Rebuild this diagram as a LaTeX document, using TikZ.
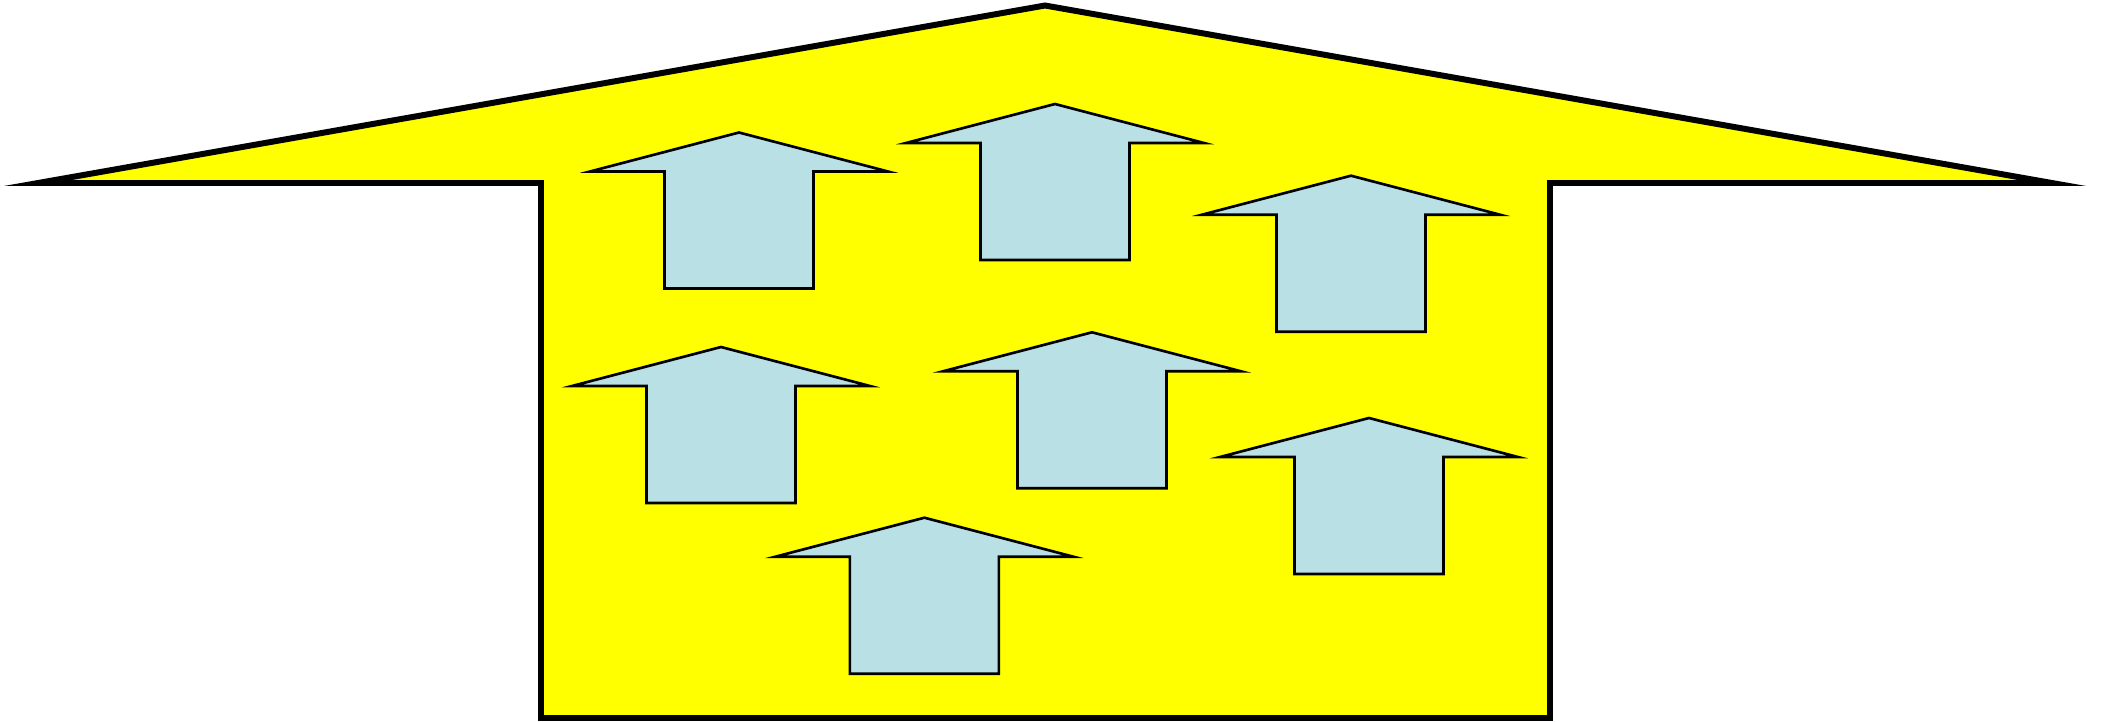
\documentclass[tikz,border=0pt]{standalone}
\usepackage{tikz}

\definecolor{liftblue}{RGB}{185,224,228}
\definecolor{houseyellow}{RGB}{255,255,0}

\begin{document}
\begin{tikzpicture}[
    x=1cm, y=1cm,
    house/.style={draw=black, fill=houseyellow, line width=1.7pt, line join=miter, miter limit=20},
    liftarrow/.style={draw=black, fill=liftblue, line width=0.75pt, line join=miter, miter limit=20},
    uparrow/.pic={
      \draw[liftarrow] (0,0) -- (1.49,-0.39) -- (0.745,-0.39) -- (0.745,-1.56)
        -- (-0.745,-1.56) -- (-0.745,-0.39) -- (-1.49,-0.39) -- cycle;
    }
  ]
  \useasboundingbox (0,0) rectangle (21.03,-7.21);

  % --- Big arrow ---
  \coordinate (apex) at (10.45,-0.055);
  \coordinate (ltip) at (0.38,-1.83);
  \coordinate (rtip) at (20.52,-1.83);
  \draw[house] (ltip) -- (apex) -- (rtip) -- (15.50,-1.83) -- (15.50,-7.18)
    -- (5.41,-7.18) -- (5.41,-1.83) -- cycle;

  % --- Small arrows ---
  \pic at (7.39,-1.325) {uparrow};
  \pic at (10.55,-1.04) {uparrow};
  \pic at (13.51,-1.757) {uparrow};
  \pic at (7.21,-3.47) {uparrow};
  \pic at (10.92,-3.323) {uparrow};
  \pic at (13.69,-4.18) {uparrow};
  \pic at (9.244,-5.177) {uparrow};

\end{tikzpicture}
\end{document}
